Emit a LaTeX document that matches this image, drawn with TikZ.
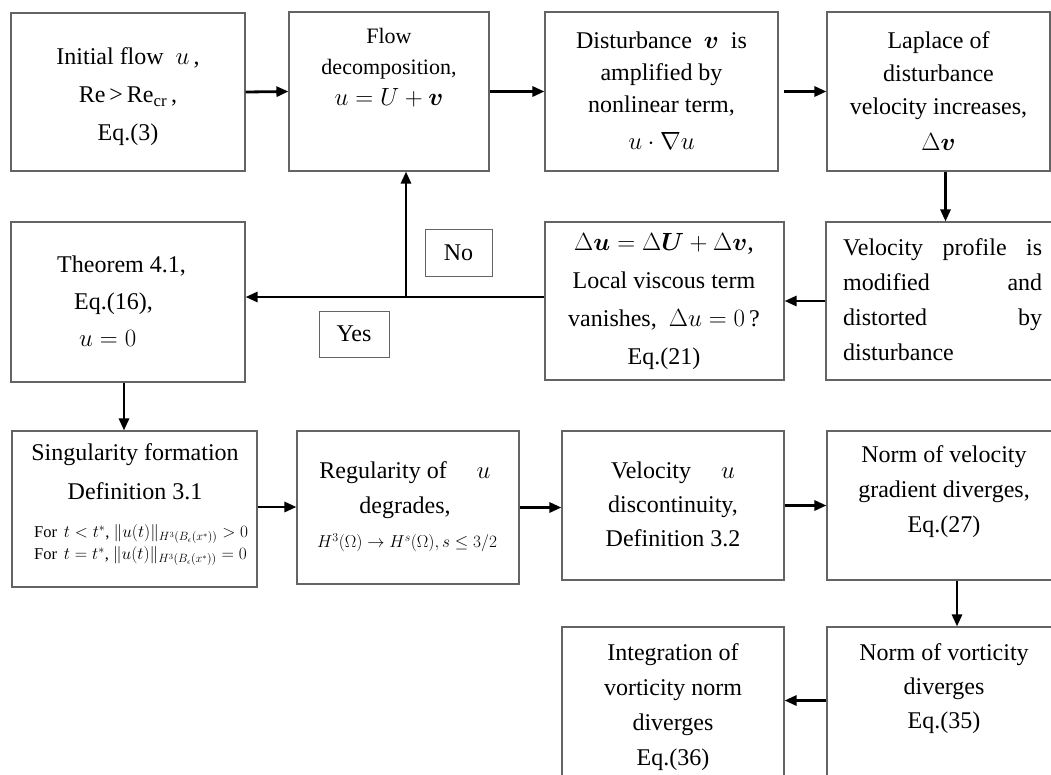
\documentclass[tikz,border=0pt]{standalone}
\usepackage{amsmath,bm}
\usepackage{fontspec}
\setmainfont{Liberation Serif}
\usetikzlibrary{arrows.meta}
\definecolor{boxgray}{RGB}{100,100,100}
\begin{document}
\begin{tikzpicture}[x=1pt,y=-1pt,
  box/.style={draw=boxgray,line width=1.1pt,inner sep=0pt,fill=none},
  arr/.style={line width=2.8pt,-{Triangle[length=12pt,width=10pt]}},
  txt/.style={align=center,inner sep=0pt,font=\fontsize{24}{36}\selectfont},
  lbl/.style={draw=boxgray,line width=1pt,inner sep=0pt,font=\fontsize{24}{30}\selectfont}]
\useasboundingbox (0,0) rectangle (1051,774);
\clip (0,0) rectangle (1051,774);
% boxes
\node[box,minimum width=234pt,minimum height=158pt] (b1) at (128,92) {};
\node[box,minimum width=200pt,minimum height=159pt] (b2) at (389,91.5) {};
\node[box,minimum width=233pt,minimum height=159pt] (b3) at (661.5,91.5) {};
\node[box,minimum width=223pt,minimum height=159pt] (b4) at (938.5,91.5) {};
\node[box,minimum width=234pt,minimum height=160pt] (b5) at (128,302) {};
\node[box,minimum width=239pt,minimum height=158pt] (b6) at (664.5,301) {};
\node[box,minimum width=232pt,minimum height=158pt] (b7) at (942,301) {};
\node[box,minimum width=245pt,minimum height=156pt] (b8) at (134.5,509) {};
\node[box,minimum width=222pt,minimum height=153pt] (b9) at (408,507.5) {};
\node[box,minimum width=222pt,minimum height=149pt] (b10) at (673,505.5) {};
\node[box,minimum width=231pt,minimum height=149pt] (b11) at (942.5,505.5) {};
\node[box,minimum width=222pt,minimum height=163pt] (b12) at (673,708.5) {};
\node[box,minimum width=231pt,minimum height=163pt] (b13) at (942.5,708.5) {};
% texts
\node[txt,font=\fontsize{24}{38}\selectfont] (t1) at (128,97) {Initial flow \ $u$\,,\\ Re\,>\,Re\textsubscript{cr}\,,\\ Eq.(3)};
\node[txt,font=\fontsize{22}{31}\selectfont] (t2) at (389,68) {Flow\\ decomposition,\\ {\fontsize{25}{25}\selectfont$u=U+\bm{v}$}};
\node[txt,font=\fontsize{24}{32}\selectfont] (t3) at (661.5,91) {Disturbance \ $\bm{v}$ \ is\\ amplified by\\ nonlinear term,\\[5pt] $u\cdot\nabla u$};
\node[txt,font=\fontsize{24}{33}\selectfont] (t4) at (938.5,91) {Laplace of\\ disturbance\\ velocity increases,\\[3pt] {\fontsize{28}{28}\selectfont$\Delta\bm{v}$}};
\node[txt,align=left,anchor=west,font=\fontsize{24}{37}\selectfont] (t5) at (57,301) {Theorem 4.1,\\ \hspace*{17pt}Eq.(16),\\ \hspace*{22pt}$u=0$};
\node[txt,font=\fontsize{24}{38}\selectfont] (t6) at (664,302) {{\fontsize{26}{26}\selectfont$\Delta\bm{u}=\Delta\bm{U}+\Delta\bm{v}$,}\\ Local viscous term\\ vanishes, \ $\Delta u=0\,$?\\ Eq.(21)};
\node[txt,align=left,text width=199pt,anchor=west,font=\fontsize{24}{35}\selectfont] (t7) at (843,300) {Velocity\hfill profile\hfill is\\ modified\hfill and\\ distorted\hfill by\\ disturbance};
\node[txt,font=\fontsize{24}{39}\selectfont] (t8) at (135,472) {Singularity formation\\ Definition 3.1};
\node[txt,align=left,anchor=west,font=\fontsize{16.5}{22}\selectfont] (t8b) at (34,545) {For \,$t<t^{*}$, $\|u(t)\|_{H^3(B_\epsilon(x^*))}>0$\\ For \,$t=t^{*}$, $\|u(t)\|_{H^3(B_\epsilon(x^*))}=0$};
\node[txt,font=\fontsize{24}{35}\selectfont] (t9) at (405,490) {Regularity of \quad $u$\\ degrades,};
\node[txt,font=\fontsize{17}{20}\selectfont] (t9b) at (407,543) {$H^3(\Omega)\to H^s(\Omega), s\le 3/2$};
\node[txt,font=\fontsize{24}{34}\selectfont] (t10) at (673,504) {Velocity \quad $u$\\ discontinuity,\\ Definition 3.2};
\node[txt,font=\fontsize{24}{35}\selectfont] (t11) at (944,492) {Norm of velocity\\ gradient diverges,\\ Eq.(27)};
\node[txt,font=\fontsize{24}{35}\selectfont] (t12) at (673,707) {Integration of\\ vorticity norm\\ diverges\\ Eq.(36)};
\node[txt,font=\fontsize{24}{34}\selectfont] (t13) at (944,689) {Norm of vorticity\\ diverges\\ Eq.(35)};
% labels
\node[lbl,minimum width=67pt,minimum height=47pt] (no) at (458.5,252.5) {No};
\node[lbl,minimum width=70pt,minimum height=46pt] (yes) at (354,334) {Yes};
% connectors
\draw[arr] (b1.east) -- (b2.west);
\draw[arr] (b2.east) -- (b3.west);
\draw[arr] ([xshift=5pt]b3.east) -- (b4.west);
\draw[arr] ([xshift=7pt]b4.south) -- ([xshift=7pt]b4.south |- b7.north);
\draw[arr] (b7.west) -- (b6.east);
\draw[arr] ([yshift=4pt]b6.west) -- ([yshift=4pt]b6.west -| b5.east);
\coordinate (br) at (406,297);
\draw[arr] (br) -- (br |- b2.south);
\draw[arr] ([xshift=-4pt]b5.south) -- ([xshift=-4pt]b5.south |- b8.north);
\draw[arr] ([yshift=2pt]b8.east) -- ([yshift=2pt]b8.east -| b9.west);
\draw[arr] (b9.east) -- (b9.east -| b10.west);
\draw[arr] (b10.east) -- (b11.west);
\draw[arr] ([xshift=14.5pt]b11.south) -- ([xshift=14.5pt]b11.south |- b13.north);
\draw[arr] ([yshift=8pt]b13.west) -- ([yshift=8pt]b13.west -| b12.east);
\end{tikzpicture}
\end{document}
